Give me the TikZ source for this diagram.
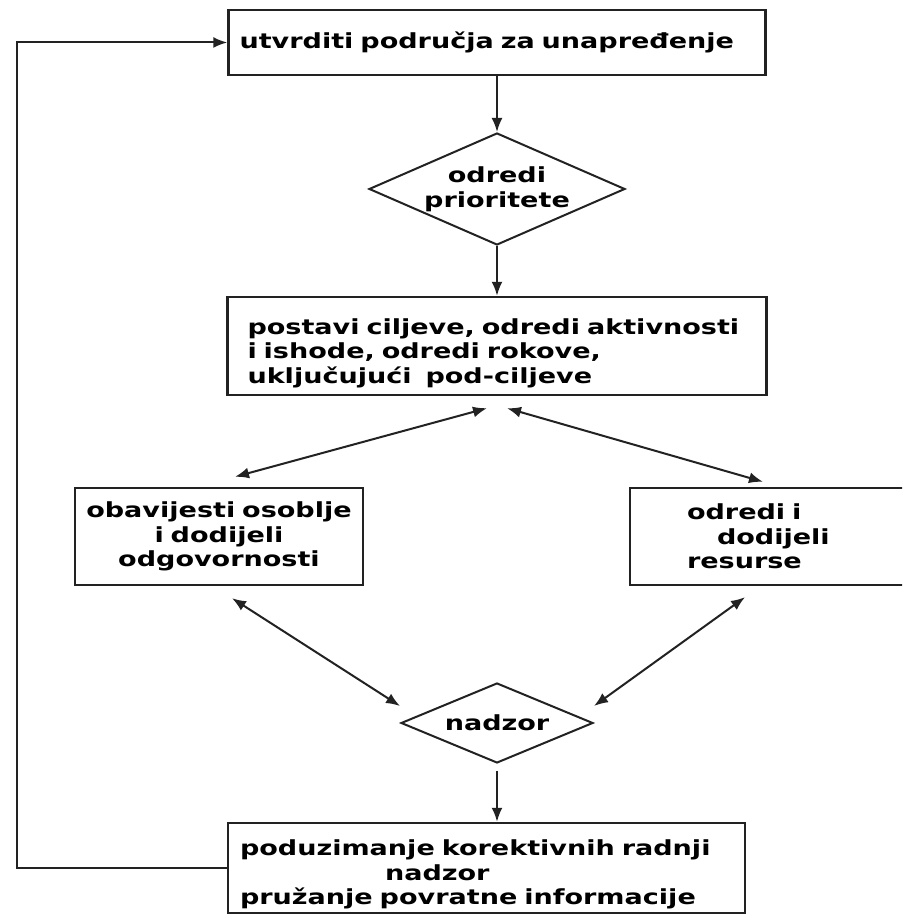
\documentclass[tikz,border=0pt]{standalone}
\usepackage{fontspec}
\newfontfamily\flowfont{DejaVu Sans}[FakeStretch=1.3]
\usepackage{tikz}
\usetikzlibrary{shapes.geometric,arrows.meta}
\definecolor{myline}{RGB}{34,34,34}
\tikzstyle{box}=[draw=myline,line width=2.4pt,rectangle,align=left,inner ysep=0pt,font=\flowfont\bfseries\fontsize{20.8}{24.5}\selectfont]
\tikzstyle{decision}=[draw=myline,line width=2pt,diamond,aspect=2.3,inner sep=0pt,align=center,font=\flowfont\bfseries\fontsize{20.8}{25}\selectfont]
\tikzstyle{flow}=[draw=myline,line width=2pt,-{Latex[length=14pt,width=11pt]}]
\tikzstyle{twoway}=[flow,{Latex[length=14pt,width=11pt]}-{Latex[length=14pt,width=11pt]}]

\begin{document}
\begin{tikzpicture}[x=1pt,y=1pt]
\path[use as bounding box,clip] (0,0) rectangle (902,915);
\node [box,minimum height=65pt,text width=515pt,inner xsep=11pt] (find) at (497,872.5) {utvrditi područja za unapređenje};
\node [decision,minimum width=256pt,minimum height=112pt] (rank) at (497,726) {odredi\\prioritete};
\node [box,minimum height=98pt,text width=499pt,inner xsep=20pt] (plan) at (497,569) {\rule{0pt}{30pt}postavi ciljeve, odredi aktivnosti\\i ishode, odredi rokove,\\uključujući\ \ pod-ciljeve};
\node [box,align=center,minimum height=97pt,text width=268pt,inner xsep=10pt] (staff) at (219,378.5) {obavijesti osoblje\\i dodijeli\\odgovornosti};
\node [box,minimum height=97pt,text width=175pt,inner xsep=57pt] (res) at (774.5,378.5) {odredi i\\\hspace*{30pt}dodijeli\\resurse};
\node [decision,minimum width=192pt,minimum height=80pt] (check) at (497,192) {nadzor};
\node [box,minimum height=90pt,text width=493pt,inner xsep=12pt] (fix) at (486.5,47) {\rule{0pt}{29pt}poduzimanje korektivnih radnji\\\hspace*{145pt}nadzor\\pružanje povratne informacije};

\draw [flow] (find) -- (rank);
\draw [flow] (rank) -- (plan);
\draw [twoway] ([xshift=-10pt,yshift=-12pt]plan.south) -- ([xshift=16pt,yshift=10pt]staff.north);
\draw [twoway] ([xshift=10pt,yshift=-12pt]plan.south) -- ([xshift=-11.5pt,yshift=5pt]res.north);
\draw [twoway] ([xshift=13pt,yshift=-12pt]staff.south) -- ([yshift=17pt]check.west);
\draw [twoway] ([xshift=-29.5pt,yshift=-11pt]res.south) -- ([yshift=17pt]check.east);
\draw [flow] ([yshift=-7pt]check.south) -- (check.south |- fix.north);
% feedback loop
\coordinate (back) at (17,47);
\draw [flow] (fix.west) -- (back) |- (find.west);
\end{tikzpicture}
\end{document}
